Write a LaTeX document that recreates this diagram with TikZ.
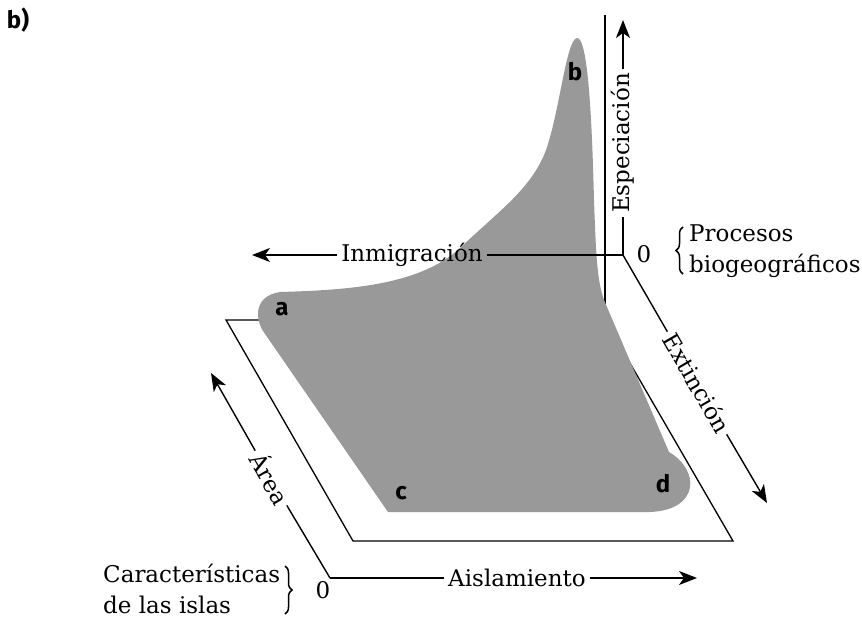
\documentclass[tikz,border=0pt]{standalone}
\usepackage{fontspec}
\setmainfont{DejaVu Serif}
\newfontfamily\labfont{Fira Sans}
\usetikzlibrary{arrows.meta,decorations.pathreplacing}
\definecolor{surfgray}{RGB}{153,153,153}
\begin{document}
\begin{tikzpicture}[x=1pt,y=-1pt,
  ax/.style={line width=1.4pt},
  arr/.style={ax,-{Stealth[length=18pt,width=14pt,inset=5pt]}},
  lbl/.style={font=\fontsize{23}{31}\selectfont, inner sep=4pt},
  ptlbl/.style={font=\labfont\bfseries\fontsize{24}{28}\selectfont, inner sep=0pt},
  frame/.style={line width=1.3pt},
  brc/.style={line width=1.5pt, decorate, decoration={brace,amplitude=7pt}}
]
\useasboundingbox (0,0) rectangle (862,618);
% base plane and back edge
\coordinate (p1) at (226,320);
\coordinate (p2) at (605,320);
\coordinate (p3) at (733,541);
\coordinate (p4) at (353,541);
\coordinate (bktop) at (605,15);
\draw[frame] (p2) -- (bktop);
\draw[frame] (p1) -- (p2) -- (p3) -- (p4) -- cycle;
% surface
\fill[surfgray] (388,512) -- (263,331) .. controls (255,318) and (254,296) .. (280,292)
  .. controls (350,290) and (420,285) .. (460,248)
  .. controls (500,210) and (532,188) .. (546,150)
  .. controls (560,110) and (566,40) .. (577,38)
  .. controls (588,37) and (592,120) .. (594,200)
  .. controls (596,255) and (597,280) .. (604,300)
  -- (669,452) .. controls (700,470) and (700,510) .. (650,512) -- cycle;
% process axes
\coordinate (O1) at (623,255);
\coordinate (tipE) at (623,20);
\coordinate (tipI) at (252,255);
\coordinate (tipX) at (767,503);
\node[lbl, rotate=90] (esp) at (623,143) {Especiación};
\node[lbl] (inm) at (412,255) {Inmigración};
\node[lbl, rotate=-60] (ext) at (697,383) {Extinción};
\draw[ax] (O1) -- (esp.west);
\draw[arr] (esp.east) -- (tipE);
\draw[ax] (O1) -- (inm.east);
\draw[arr] (inm.west) -- (tipI);
\draw[ax] (O1) -- (ext.west);
\draw[arr] (ext.east) -- (tipX);
% island axes
\coordinate (O2) at (330,578);
\coordinate (tipA) at (211,373);
\coordinate (tipS) at (697,578);
\node[lbl, rotate=-60] (area) at (271,478) {Área};
\node[lbl] (ais) at (517,578) {Aislamiento};
\draw[ax] (O2) -- (area.east);
\draw[arr] (area.west) -- (tipA);
\draw[ax] (O2) -- (ais.west);
\draw[arr] (ais.east) -- (tipS);
% zeros
\node[lbl] (z1) at (644,254) {0};
\node[lbl] (z2) at (323,590) {0};
% braces and group labels
\draw[brc] (683,274) -- (683,227);
\node[lbl, anchor=west, align=left, inner sep=0pt] (proc) at (689,251) {Procesos\\biogeográficos};
\draw[brc] (285,566) -- (285,614);
\node[lbl, anchor=west, align=left, inner sep=0pt] (car) at (103,589) {Características\\de las islas};
% point labels
\node[ptlbl] (la) at (282,309) {a};
\node[ptlbl] (lb) at (575,72) {b};
\node[ptlbl] (lc) at (401,493) {c};
\node[ptlbl] (ld) at (663,484) {d};
\node[ptlbl] (title) at (18,20) {b)};
\end{tikzpicture}
\end{document}
